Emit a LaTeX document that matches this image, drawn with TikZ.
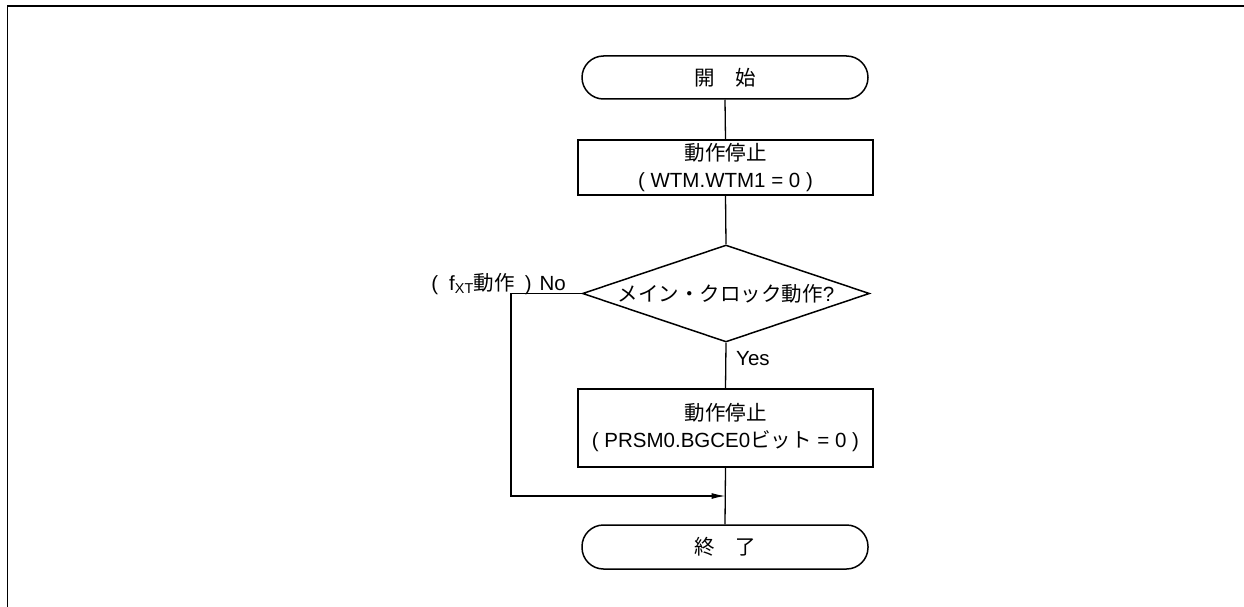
\documentclass[tikz,border=0pt]{standalone}
\usepackage{fontspec}
\setmainfont{Liberation Sans}
\newfontfamily\jp{Noto Sans CJK JP}
\usetikzlibrary{shapes.geometric,arrows.meta}
\tikzset{
  lw/.style={line width=1.5pt},
  term/.style={lw,draw,rectangle,rounded corners=21.5pt,minimum width=286pt,minimum height=43pt,inner sep=0pt,font=\fontsize{20.5}{27}\selectfont,align=center},
  proc/.style={lw,draw,rectangle,minimum width=295pt,inner sep=0pt,font=\fontsize{20.5}{27}\selectfont,align=center},
  decis/.style={lw,draw,diamond,minimum width=287pt,minimum height=97pt,inner sep=0pt},
  txt/.style={font=\fontsize{20.5}{27}\selectfont,inner sep=0pt},
  conn/.style={line width=1.3pt},
}
\begin{document}
\begin{tikzpicture}[x=1pt,y=-1pt]
\useasboundingbox (0,0) rectangle (1244,607);
\draw[line width=2.4pt] (7,6) -- (1244,6);
\draw[line width=1.1pt] (7.5,6) -- (7.5,607);

\node[term] (start) at (725,77.5) {\jp 開　始};
\node[proc,minimum height=55pt] (box1) at (725.5,167.5) {{\jp 動作停止}\\( WTM.WTM1 = 0 )};
\node[decis] (dec) at (726,293.5) {};
\node[txt] (dectext) at (dec.center) {{\jp メイン・クロック動作}?};
\node[txt,anchor=west] (yes) at (736,359) {Yes};
\node[txt,anchor=base east] (no) at (566,290) {(\hspace{11pt}f\textsubscript{XT}{\jp 動作}\hspace{10pt})\hspace{8pt}No};
\node[proc,minimum height=78pt] (box2) at (725.5,428) {{\jp 動作停止}\\( PRSM0.BGCE0{\jp ビット} = 0 )};
\node[term,minimum height=44pt] (end) at (725,547) {\jp 終　了};

\coordinate (c1) at (511,293.5);
\coordinate (c2) at (511,496);
\coordinate (j) at (box2.south |- c2);

\draw[conn] (start.south) -- (box1.north);
\draw[conn] (box1.south) -- (dec.north);
\draw[conn] (dec.south) -- (box2.north);
\draw[conn] (box2.south) -- (end.north);
\draw[conn,-{Latex[length=14pt,width=6pt]}] (dec.west) -- (c1) -- (c2) -- (j);
\end{tikzpicture}
\end{document}
